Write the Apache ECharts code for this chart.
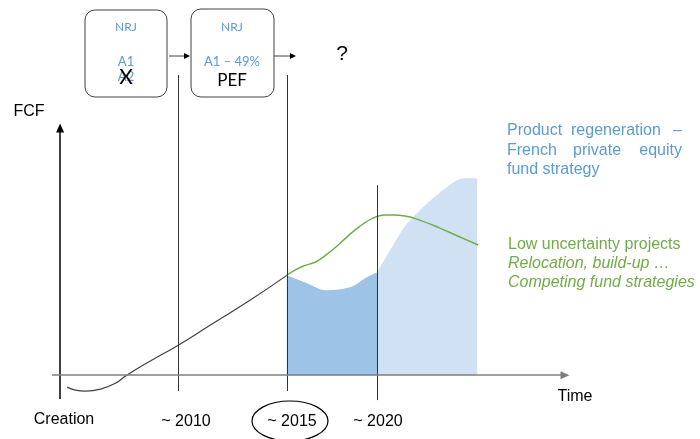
<!DOCTYPE html>
<html>
<head>
<meta charset="utf-8">
<script src="https://cdn.jsdelivr.net/npm/echarts@6/dist/echarts.min.js"></script>
<style>
  html, body { margin: 0; padding: 0; background: #fff; }
  #main { width: 700px; height: 439px; }
</style>
</head>
<body>
<div id="main"></div>
<script>
// time runs 0..100 (arbitrary units), FCF in arbitrary units, 0 = x axis
const historyX = [1.4, 3, 5, 8, 11, 13.2, 17.8, 23.4, 29.7, 37.6, 44.9]
const historyY = [-6, -7.5, -8, -7, -4, 0, 7, 15, 25, 37.5, 50]

const lowRiskX = [44.9, 46.5, 48.1, 50.5, 52.1, 54.4, 56.8, 59.4, 62.0, 64.3, 65.9, 68.3, 70.7, 75.2, 79.2, 82.8]
const lowRiskY = [50.1, 52.6, 54.6, 56.6, 59.1, 63.7, 69.2, 74.7, 78.7, 80.2, 80.2, 79.7, 78.2, 73.7, 69.2, 65.2]

const pefX = [44.9, 46.9, 48.9, 52.5, 55.5, 58.0, 60.4, 62.8]
const pefY = [50.1, 48.1, 46.1, 42.6, 43.1, 44.6, 48.6, 51.6]

const regenX = [62.8, 64.8, 66.8, 68.8, 71.9, 75.3, 78.6, 80.2, 82.6]
const regenY = [51.6, 60.2, 68.7, 76.2, 84.2, 91.7, 97.7, 98.7, 98.7]

// milestone verticals: x, bottom, top
const milestoneX = [23.4, 44.9, 62.8]
const milestoneBottom = [-8, -8, -12.5]
const milestoneTop = [150.4, 150.4, 95.2]

const pairs = (xs, ys) => xs.map((x, i) => [x, ys[i]])

const chart = echarts.init(document.getElementById('main'))
const font = 'Liberation Sans, Arial, sans-serif'
const blue = '#5b9bd5'
const green = '#70ad47'

function txt(x, y, text, opts) {
    return {
        type: 'text', x: x, y: y, z: 10,
        style: Object.assign({
            text: text, fontFamily: font, fontSize: 16, fill: '#000',
            textAlign: 'center', textVerticalAlign: 'middle'
        }, opts || {})
    }
}

function box(x, y, w, h) {
    return {
        type: 'rect', z: 5,
        shape: {x: x, y: y, width: w, height: h, r: 10},
        style: {fill: '#fff', stroke: '#404040', lineWidth: 1}
    }
}

function arrow(x1, x2, y) {
    return [
        {type: 'line', z: 5, shape: {x1: x1, y1: y, x2: x2 - 5, y2: y}, style: {stroke: '#404040', lineWidth: 1}},
        {type: 'polygon', z: 5, shape: {points: [[x2, y], [x2 - 6, y - 3], [x2 - 6, y + 3]]}, style: {fill: '#000'}}
    ]
}

chart.setOption({
    animation: false,
    grid: {left: 52, right: 135, top: 0, bottom: 0},
    xAxis: {type: 'value', min: -1.6, max: 100, show: false},
    yAxis: {type: 'value', min: -32, max: 188, show: false},
    series: [
        {
            type: 'line', data: pairs(pefX, pefY), showSymbol: false, smooth: 0.3, z: 1,
            lineStyle: {width: 0}, areaStyle: {color: '#9dc3e6', opacity: 1}
        },
        {
            type: 'line', data: pairs(regenX, regenY), showSymbol: false, smooth: 0.3, z: 1,
            lineStyle: {width: 0}, areaStyle: {color: '#cfe1f2', opacity: 1}
        },
        {
            type: 'line', data: pairs(historyX, historyY), showSymbol: false, smooth: 0.5, z: 3,
            lineStyle: {color: '#404040', width: 1.2},
            markLine: {
                silent: true, symbol: ['none', 'none'], label: {show: false},
                lineStyle: {color: '#333', width: 1, type: 'solid'},
                data: milestoneX.map((x, i) => [
                    {coord: [x, milestoneBottom[i]]}, {coord: [x, milestoneTop[i]]}
                ]).concat([
                    [{coord: [0, -12], lineStyle: {color: '#000', width: 1.5}, symbol: 'none'},
                     {coord: [0, 123.8], symbol: 'triangle', symbolSize: [8, 9]}],
                    [{coord: [-1.6, 0], lineStyle: {color: '#7f7f7f', width: 1.5}, symbol: 'none'},
                     {coord: [100, 0], symbol: 'triangle', symbolSize: [8, 9], itemStyle: {color: '#000'}}]
                ])
            }
        },
        {
            type: 'line', data: pairs(lowRiskX, lowRiskY), showSymbol: false, smooth: 0.4, z: 4,
            lineStyle: {color: green, width: 1.5}
        }
    ],
    graphic: [
        box(85, 10, 82, 87),
        box(191, 9, 83, 88),
        ...arrow(169, 190, 56),
        ...arrow(274, 296, 56),
        txt(126, 27, 'NRJ', {fill: blue, fontSize: 12, fontFamily: 'Lato'}),
        txt(126, 62, 'A1', {fill: blue, fontSize: 13, fontFamily: 'Lato'}),
        txt(126, 77, 'A2', {fill: blue, fontSize: 13, fontFamily: 'Lato'}),
        txt(126, 77, 'X', {fontSize: 21, fontFamily: 'Lato'}),
        txt(232, 27, 'NRJ', {fill: blue, fontSize: 12, fontFamily: 'Lato'}),
        txt(232, 62, 'A1 – 49%', {fill: blue, fontSize: 13, fontFamily: 'Lato'}),
        txt(232, 81, 'PEF', {fontSize: 17, fontFamily: 'Lato', backgroundColor: '#fff', padding: [1, 14]}),
        txt(342, 54, '?', {fontSize: 21}),
        txt(29, 112, 'FCF'),
        txt(575, 397, 'Time'),
        txt(64, 420, 'Creation'),
        txt(186, 422, '~ 2010'),
        txt(292, 422, '~ 2015'),
        txt(378, 422, '~ 2020'),
        {
            type: 'ellipse', z: 5, shape: {cx: 290, cy: 421, rx: 38, ry: 20},
            style: {fill: 'none', stroke: '#000', lineWidth: 1.2}
        },
        txt(507, 131, 'Product', {fill: blue, textAlign: 'left'}),
        txt(571, 131, 'regeneration', {fill: blue, textAlign: 'left'}),
        txt(682, 131, '–', {fill: blue, textAlign: 'right'}),
        txt(507, 151, 'French', {fill: blue, textAlign: 'left'}),
        txt(573, 151, 'private', {fill: blue, textAlign: 'left'}),
        txt(682, 151, 'equity', {fill: blue, textAlign: 'right'}),
        txt(507, 170, 'fund strategy', {fill: blue, textAlign: 'left'}),
        txt(508, 245, 'Low uncertainty projects', {fill: green, textAlign: 'left'}),
        txt(508, 264, 'Relocation, build-up …', {fill: green, textAlign: 'left', fontStyle: 'italic'}),
        txt(508, 283, 'Competing fund strategies', {fill: green, textAlign: 'left', fontStyle: 'italic'})
    ]
})
</script>
</body>
</html>
